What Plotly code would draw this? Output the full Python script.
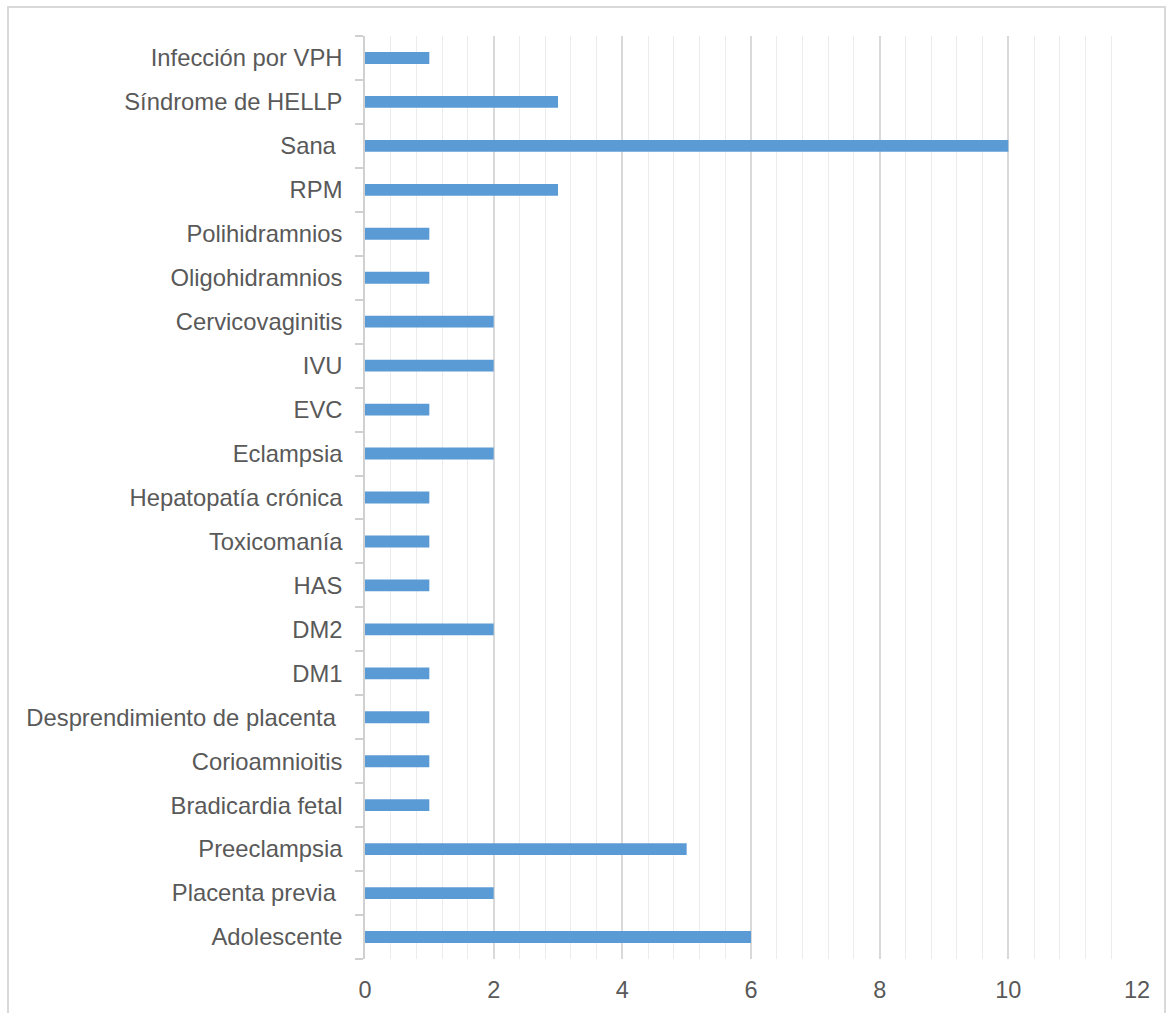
import plotly.graph_objects as go

# Categories listed bottom to top, with counts
categorias = [
    "Adolescente", "Placenta previa\u00a0", "Preeclampsia", "Bradicardia fetal",
    "Corioamnioitis", "Desprendimiento de placenta\u00a0", "DM1", "DM2", "HAS",
    "Toxicomanía", "Hepatopatía crónica", "Eclampsia", "EVC", "IVU",
    "Cervicovaginitis", "Oligohidramnios", "Polihidramnios", "RPM", "Sana\u00a0",
    "Síndrome de HELLP", "Infección por VPH",
]
valores = [6, 2, 5, 1, 1, 1, 1, 2, 1, 1, 1, 2, 1, 2, 2, 1, 1, 3, 10, 3, 1]
x_ticks = [0, 2, 4, 6, 8, 10, 12]

W, H = 1172, 1013
L, R, T, B = 365, 35, 36, 54
pw, ph = W - L - R, H - T - B

fig = go.Figure(
    go.Bar(
        x=valores,
        y=categorias,
        orientation="h",
        width=0.27,
        marker=dict(color="#5b9bd5", line=dict(width=0)),
    )
)

# outer chart frame
def px_x(v):
    return (v - L) / pw

def px_y(v):
    return (H - B - v) / ph

fig.add_shape(
    type="rect", xref="paper", yref="paper",
    x0=px_x(8), x1=px_x(1165), y0=px_y(1030), y1=px_y(7),
    line=dict(color="#d9d9d9", width=2), fillcolor="rgba(0,0,0,0)",
    layer="below",
)

font = dict(family="Liberation Sans, Arial, sans-serif", size=23.8, color="#595959")

fig.update_layout(
    width=W, height=H,
    margin=dict(l=L, r=R, t=T, b=B, pad=0),
    paper_bgcolor="white", plot_bgcolor="white",
    showlegend=False,
    font=font,
    bargap=0.73,
    xaxis=dict(
        range=[0, 12],
        tickvals=x_ticks,
        ticktext=[str(v) for v in x_ticks],
        showline=False, zeroline=False, ticks="",
        showgrid=True, gridcolor="#d9d9d9", gridwidth=1.5,
        minor=dict(dtick=0.4, showgrid=True, gridcolor="#ececec", gridwidth=1),
        tickfont=dict(family="Liberation Sans, Arial, sans-serif", size=23.5, color="#595959"),
        ticklabelstandoff=14,
        automargin=False,
    ),
    yaxis=dict(
        type="category",
        categoryorder="array", categoryarray=categorias,
        range=[-0.5, len(categorias) - 0.5],
        showline=True, linecolor="#d0d0d0", linewidth=1.5,
        ticks="outside", tickson="boundaries", ticklen=8,
        tickcolor="#d0d0d0", tickwidth=1.5,
        showgrid=False, zeroline=False,
        tickfont=font,
        ticklabelstandoff=16,
        automargin=False,
    ),
)

fig.write_html("out.html")
